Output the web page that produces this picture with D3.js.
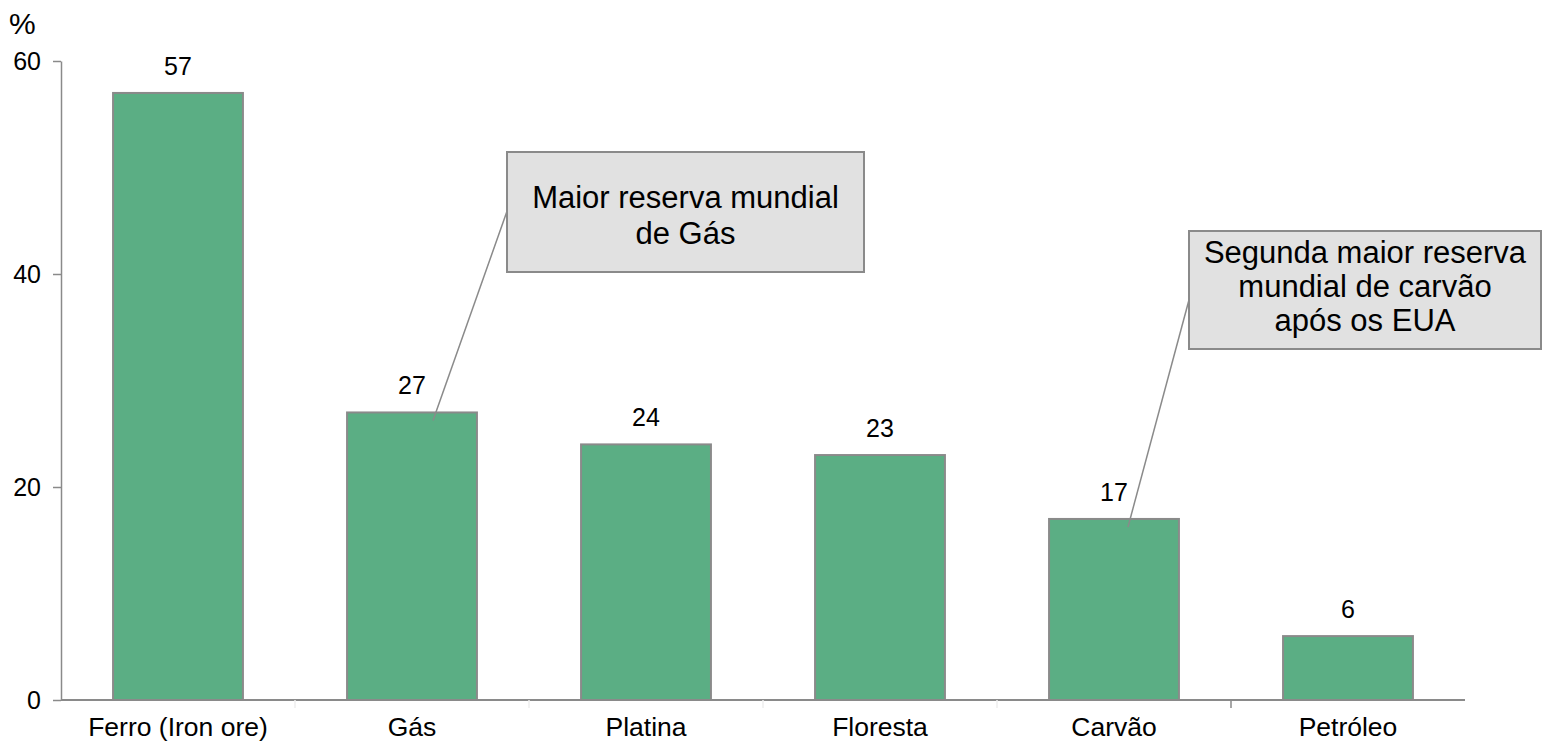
<!DOCTYPE html>
<head>
    <meta charset="utf-8" />
    <title>Reservas</title>
    <script src="https://d3js.org/d3.v7.min.js"></script>
    <style>
        body { margin: 0; background: #fff; font-family: "Liberation Sans", Arial, sans-serif; }
        svg text { fill: #000; }
    </style>
</head>
<body>
<svg width="1559" height="742"></svg>
<script>
    // data
    let categories = ["Ferro (Iron ore)", "Gás", "Platina", "Floresta", "Carvão", "Petróleo"];
    let values = [57, 27, 24, 23, 17, 6];
    let yTicks = [0, 20, 40, 60];
    let noteGas = ["Maior reserva mundial", "de Gás"];
    let noteCarvao = ["Segunda maior reserva", "mundial de carvão", "após os EUA"];

    let svg = d3.select("svg");
    let barColor = "#5bae84";
    let lineColor = "#8a8a8a";

    let x = d3.scaleBand().domain(categories).range([61, 1465]).paddingInner(0.445).paddingOuter(0.2225);
    let y = d3.scaleLinear().domain([0, 60]).range([700, 61]);

    // y axis
    let yAxis = svg.append("g").attr("transform", "translate(61,0)")
        .call(d3.axisLeft(y).tickValues(yTicks).tickSize(8).tickPadding(12).tickSizeOuter(0));
    yAxis.select(".domain").attr("stroke", lineColor).attr("stroke-width", 1.5);
    yAxis.selectAll(".tick line").attr("stroke", lineColor).attr("stroke-width", 1.5);
    yAxis.selectAll(".tick text").attr("font-size", 25).attr("font-family", "Liberation Sans, Arial").attr("fill", "#000");

    svg.append("text").attr("x", 9).attr("y", 34).attr("font-size", 30).text("%");

    // bars
    svg.selectAll("rect.bar").data(values).join("rect")
        .attr("class", "bar")
        .attr("x", (d, i) => x(categories[i]))
        .attr("y", d => y(d))
        .attr("width", x.bandwidth())
        .attr("height", d => y(0) - y(d))
        .attr("fill", barColor)
        .attr("stroke", lineColor)
        .attr("stroke-width", 2);

    // x axis
    let bounds = categories.map(c => x(c) - x.step() * x.paddingInner() / 2).slice(1);
    let xAxis = svg.append("g").attr("transform", "translate(0,700)");
    xAxis.append("line").attr("x1", 61).attr("x2", 1465).attr("stroke", lineColor).attr("stroke-width", 2);
    xAxis.selectAll("line.tk").data(bounds).join("line").attr("class", "tk")
        .attr("x1", d => d).attr("x2", d => d).attr("y1", 0).attr("y2", 8)
        .attr("stroke", (d, i) => i === bounds.length - 1 ? lineColor : "#eeeeee").attr("stroke-width", 1.5);
    xAxis.selectAll("text").data(categories).join("text")
        .attr("x", d => x(d) + x.bandwidth() / 2).attr("y", 36)
        .attr("text-anchor", "middle").attr("font-size", 26.5).text(d => d);

    // value labels
    svg.selectAll("text.val").data(values).join("text").attr("class", "val")
        .attr("x", (d, i) => x(categories[i]) + x.bandwidth() / 2)
        .attr("y", d => y(d) - 18)
        .attr("text-anchor", "middle").attr("font-size", 25).text(d => d);

    // callouts
    function callout(cat, val, dx, box, lines, lineGap, firstBase, endY) {
        let sx = x(cat) + x.bandwidth() / 2 + dx;
        let sy = y(val) + 8;
        svg.append("line").attr("x1", sx).attr("y1", sy).attr("x2", box.x + 4).attr("y2", endY)
            .attr("stroke", lineColor).attr("stroke-width", 1.5);
        svg.append("rect").attr("x", box.x).attr("y", box.y).attr("width", box.w).attr("height", box.h)
            .attr("fill", "#e1e1e1").attr("stroke", lineColor).attr("stroke-width", 2);
        svg.selectAll(null).data(lines).join("text")
            .attr("x", box.x + box.w / 2).attr("y", (d, i) => firstBase + i * lineGap)
            .attr("text-anchor", "middle").attr("font-size", 31).text(d => d);
    }
    callout("Gás", 27, 21, {x: 507, y: 152, w: 357, h: 120}, noteGas, 36, 208, 200);
    callout("Carvão", 17, 14, {x: 1189, y: 231, w: 352, h: 118}, noteCarvao, 34, 263, 285);
</script>
</body>
